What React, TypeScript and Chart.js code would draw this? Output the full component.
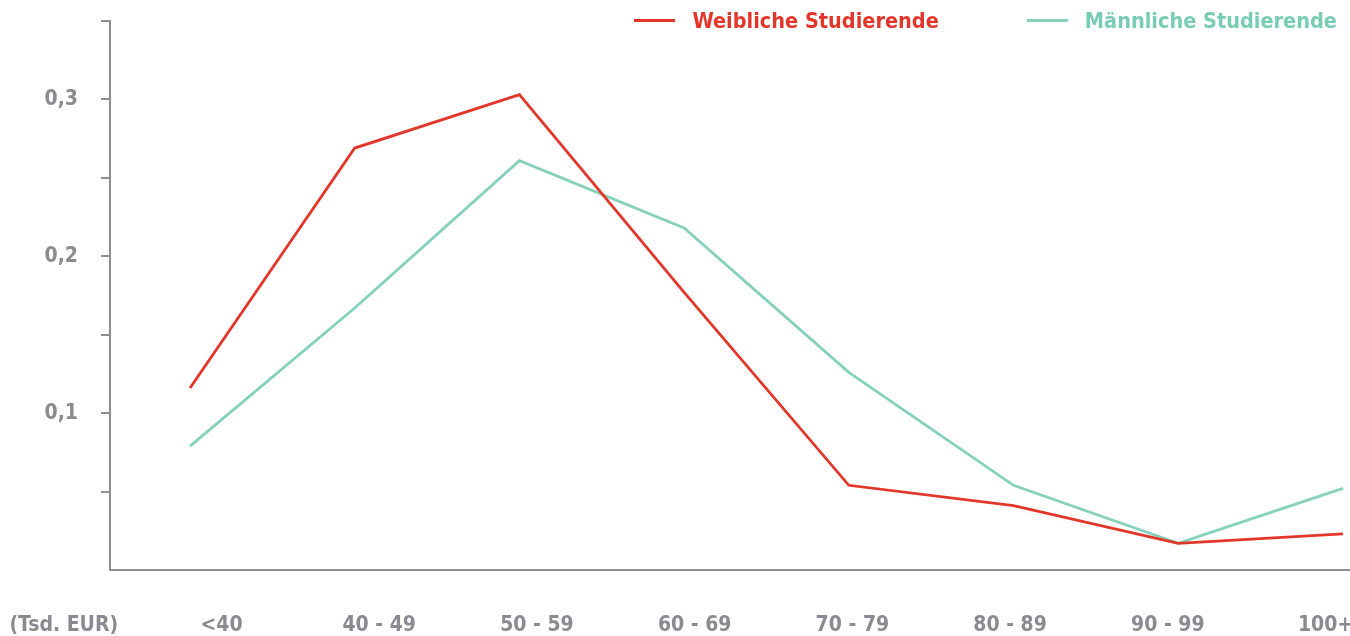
import React, { useEffect, useRef } from 'react';
import { Chart, registerables } from 'chart.js';

Chart.register(...registerables);

// ---- data ----
const categories = ['<40', '40 - 49', '50 - 59', '60 - 69', '70 - 79', '80 - 89', '90 - 99', '100+'];
const unitLabel = '(Tsd. EUR)';
const xTickLabels = [unitLabel, ...categories];
const femaleValues = [0.116, 0.269, 0.303, 0.177, 0.054, 0.041, 0.017, 0.023];
const maleValues = [0.079, 0.167, 0.261, 0.218, 0.126, 0.054, 0.017, 0.052];
const yTickValues = [0, 0.05, 0.1, 0.15, 0.2, 0.25, 0.3, 0.35];
const yTickLabels = ['', '', '0,1', '', '0,2', '', '0,3', ''];
const seriesNames = ['Weibliche Studierende', 'Männliche Studierende'];

// ---- styles ----
const RED = '#e3362a';
const GREEN = '#86d1ba';
const GREEN_TEXT = '#78cdb3';
const TEXT = '#8a8a90';
const AXIS = '#8e8e94';
const FAMILY = "'DejaVu Sans Condensed', 'DejaVu Sans', sans-serif";

export default function App() {
  const canvasRef = useRef<HTMLCanvasElement | null>(null);

  useEffect(() => {
    const canvas = canvasRef.current;
    if (!canvas) return;
    const font = { family: FAMILY, size: 21, weight: 'bold' as const, lineHeight: 1.2 };
    const chart = new Chart(canvas, {
      type: 'line',
      data: {
        datasets: [
          {
            label: seriesNames[0],
            data: femaleValues.map((y, i) => ({ x: i, y })),
            borderColor: RED,
            backgroundColor: RED,
            borderWidth: 2.8,
            pointRadius: 0,
            tension: 0,
            fill: false,
            xAxisID: 'xd',
            yAxisID: 'y',
          },
          {
            label: seriesNames[1],
            data: maleValues.map((y, i) => ({ x: i, y })),
            borderColor: GREEN,
            backgroundColor: GREEN,
            borderWidth: 2.8,
            pointRadius: 0,
            tension: 0,
            fill: false,
            xAxisID: 'xd',
            yAxisID: 'y',
          },
        ],
      },
      options: {
        responsive: false,
        animation: false,
        events: [],
        layout: { padding: { left: 0, right: 0, top: 21, bottom: 0 } },
        plugins: { legend: { display: false }, tooltip: { enabled: false } },
        scales: {
          x: {
            type: 'linear',
            position: 'bottom',
            min: 0.293,
            max: 8.155,
            afterBuildTicks: (s: any) => {
              s.ticks = xTickLabels.map((_, i) => ({ value: i }));
            },
            afterFit: (s: any) => {
              s.height = 66;
              s.paddingLeft = 0;
              s.paddingRight = 0;
            },
            grid: { display: true, drawOnChartArea: false, drawTicks: false, color: 'rgba(0,0,0,0)' },
            border: { display: true, color: AXIS, width: 2 },
            ticks: {
              autoSkip: false,
              maxRotation: 0,
              padding: 43,
              color: TEXT,
              font,
              callback: (v: any) => xTickLabels[Math.round(Number(v))] ?? '',
            },
          },
          xd: {
            type: 'linear',
            display: false,
            min: -0.486,
            max: 7.043,
          },
          y: {
            type: 'linear',
            position: 'left',
            min: 0,
            max: 0.35,
            afterBuildTicks: (s: any) => {
              s.ticks = yTickValues.map((v) => ({ value: v }));
            },
            afterFit: (s: any) => {
              s.width = 110;
              s.paddingTop = 0;
              s.paddingBottom = 0;
            },
            grid: {
              drawOnChartArea: false,
              drawTicks: true,
              tickLength: 9,
              lineWidth: 2,
              color: (c: any) => (c.tick && c.tick.value === 0 ? 'rgba(0,0,0,0)' : AXIS),
            },
            border: { display: true, color: AXIS, width: 2 },
            ticks: {
              padding: 23,
              color: TEXT,
              font,
              callback: (_v: any, i: number) => yTickLabels[i] ?? '',
            },
          },
        },
      } as any,
    });
    return () => chart.destroy();
  }, []);

  const legendColors = [RED, GREEN];
  const legendTextColors = [RED, GREEN_TEXT];

  return (
    <div style={{ position: 'absolute', left: 0, top: 0, width: 1350, height: 636, background: '#fff' }}>
      <canvas ref={canvasRef} width={1350} height={636} style={{ display: 'block' }} />
      <div
        style={{
          position: 'absolute',
          top: 9,
          right: 13,
          height: 24,
          display: 'flex',
          alignItems: 'center',
          fontFamily: FAMILY,
          fontWeight: 'bold',
          fontSize: 21.5,
          lineHeight: '24px',
          whiteSpace: 'nowrap',
        }}
      >
        {seriesNames.map((name, i) => (
          <div key={name} style={{ display: 'flex', alignItems: 'center', marginLeft: i === 0 ? 0 : 88 }}>
            <span
              style={{
                display: 'inline-block',
                width: 41,
                height: 3,
                background: legendColors[i],
                marginRight: 17,
                position: 'relative',
                top: -1,
              }}
            />
            <span style={{ color: legendTextColors[i] }}>{name}</span>
          </div>
        ))}
      </div>
    </div>
  );
}
